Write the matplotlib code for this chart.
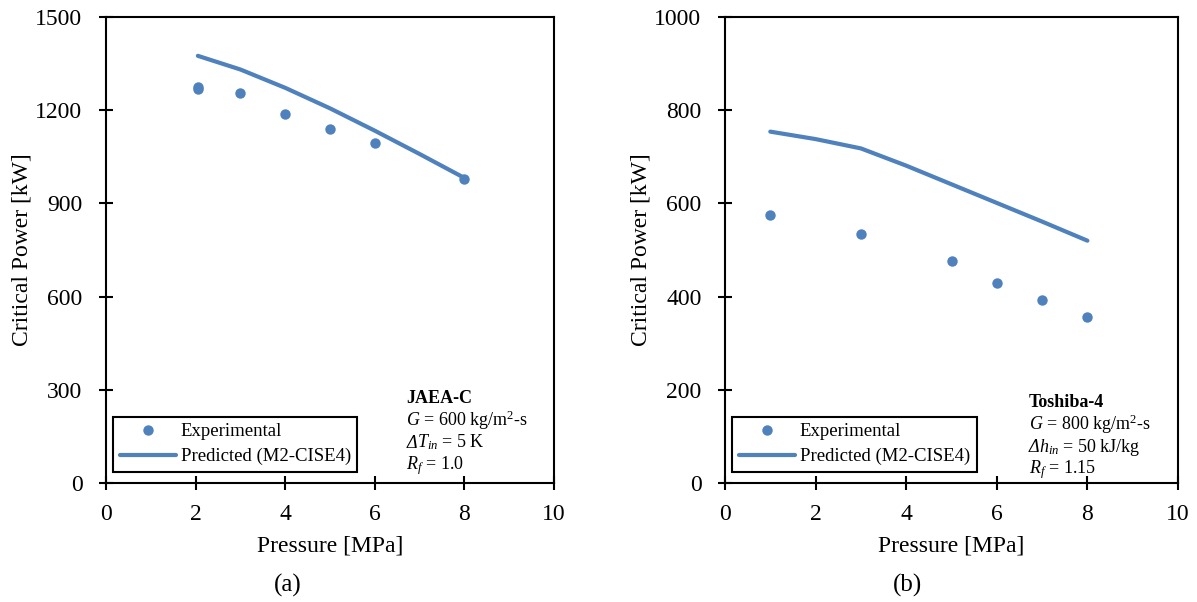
import matplotlib
matplotlib.use("Agg")
import matplotlib.pyplot as plt

plt.rcParams["font.family"] = ["Liberation Serif", "DejaVu Serif"]
plt.rcParams["mathtext.fontset"] = "custom"
plt.rcParams["mathtext.rm"] = "Liberation Serif"
plt.rcParams["mathtext.it"] = "Liberation Serif:italic"
plt.rcParams["mathtext.bf"] = "Liberation Serif:bold"

# JAEA-C case
jaea_p_exp = [2.05, 2.06, 3.0, 4.0, 5.0, 6.0, 8.0]
jaea_cp_exp = [1276, 1268, 1256, 1189, 1138, 1095, 977]
jaea_p_pred = [2.05, 3.0, 4.0, 5.0, 6.0, 7.0, 8.0]
jaea_cp_pred = [1375, 1331, 1272, 1206, 1134, 1059, 982]

# Toshiba-4 case
tosh_p_exp = [1, 3, 5, 6, 7, 8]
tosh_cp_exp = [576, 534, 476, 429, 392, 356]
tosh_p_pred = [1, 2, 3, 4, 5, 6, 7, 8]
tosh_cp_pred = [754, 738, 718, 681, 641, 601, 561, 520]

blue = "#4F81BD"

fig = plt.figure(figsize=(11.97, 6.02), dpi=100)
ax1 = fig.add_axes([106 / 1197, 1 - 483 / 602, 448 / 1197, 466 / 602])
ax2 = fig.add_axes([725 / 1197, 1 - 483 / 602, 453 / 1197, 466 / 602])
renderer = fig.canvas.get_renderer()


def draw_panel(ax, px, py, lx, ly, ymax, ystep, info, lx0, ly0, ty):
    ax.plot(px, py, "o", color=blue, ms=7.5, mec="none", label="Experimental", zorder=3)
    ax.plot(lx, ly, "-", color=blue, lw=3, label="Predicted (M2-CISE4)", solid_capstyle="round")
    ax.set_xlim(0, 10)
    ax.set_ylim(0, ymax)
    ax.set_xticks(range(0, 11, 2))
    ax.set_yticks(range(0, ymax + 1, ystep))
    ax.tick_params(direction="inout", length=10, width=1.5, labelsize=17)
    ax.tick_params(axis="x", pad=10)
    ax.tick_params(axis="y", pad=12)
    for s in ax.spines.values():
        s.set_linewidth(1.5)
    ax.set_xlabel("Pressure [MPa]", fontsize=17, labelpad=8)
    ax.set_ylabel("Critical Power [kW]", fontsize=17, labelpad=2)
    leg = ax.legend(loc="lower left", bbox_to_anchor=(lx0, ly0), borderaxespad=0,
                    fontsize=13.5, fancybox=False, edgecolor="black", framealpha=1,
                    handlelength=3.0, handletextpad=0.25, borderpad=0.35,
                    labelspacing=0.4, numpoints=1)
    leg.get_frame().set_linewidth(1.5)

    name, g_line, d_line, rf_line = info
    x0 = 0.67
    ax.text(x0, ty, name, transform=ax.transAxes, fontsize=13,
            fontweight="bold", va="baseline")
    ax.text(x0, ty - 0.05, g_line, transform=ax.transAxes, fontsize=13, va="baseline")
    # italic Delta drawn on its own, the rest of the line follows it
    d = ax.text(x0, ty - 0.096, "\u0394", transform=ax.transAxes, fontsize=13,
                style="italic", va="baseline")
    w = d.get_window_extent(renderer).width / ax.get_window_extent(renderer).width
    ax.text(x0 + w, ty - 0.096, d_line, transform=ax.transAxes, fontsize=13, va="baseline")
    ax.text(x0, ty - 0.142, rf_line, transform=ax.transAxes, fontsize=13, va="baseline")


draw_panel(ax1, jaea_p_exp, jaea_cp_exp, jaea_p_pred, jaea_cp_pred, 1500, 300,
           ("JAEA-C", r"$G$ = 600 kg/m$^{\mathrm{2}}$-s",
            r"$T_{in}$ = 5 K", r"$R_f$ = 1.0"), 0.016, 0.024, 0.172)
draw_panel(ax2, tosh_p_exp, tosh_cp_exp, tosh_p_pred, tosh_cp_pred, 1000, 200,
           ("Toshiba-4", r"$G$ = 800 kg/m$^{\mathrm{2}}$-s",
            r"$h_{in}$ = 50 kJ/kg", r"$R_f$ = 1.15"), 0.016, 0.024, 0.163)

fig.text(288 / 1197, 1 - 585 / 602, "(a)", fontsize=18, ha="center", va="center")
fig.text(908 / 1197, 1 - 585 / 602, "(b)", fontsize=18, ha="center", va="center")

fig.savefig("out.png", dpi=100)
